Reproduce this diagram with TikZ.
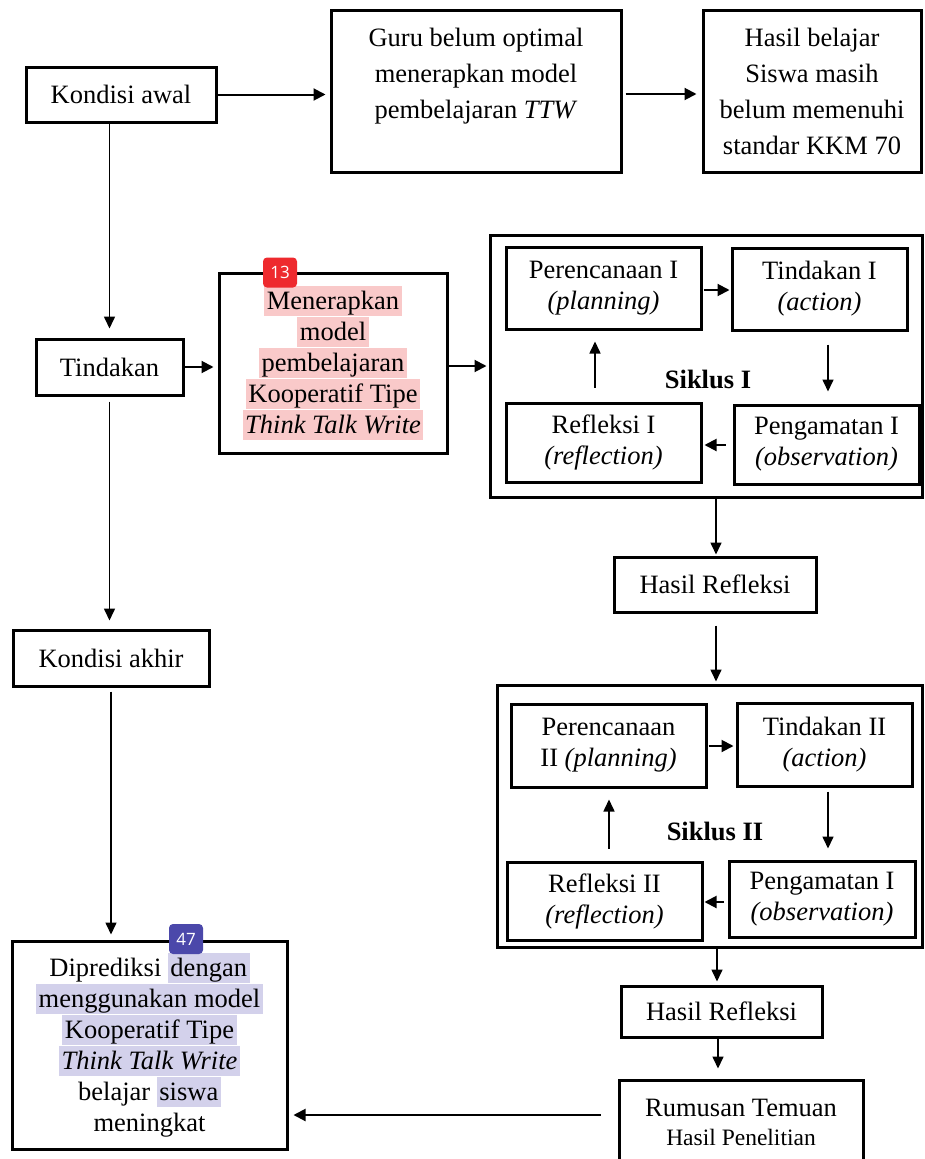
\documentclass[tikz,border=0pt]{standalone}
\usepackage{fontspec}
\setmainfont{Liberation Serif}
\newfontfamily\badgefont{Open Sans}
\usetikzlibrary{arrows.meta}
\definecolor{hlpink}{HTML}{F9C9C9}
\definecolor{hlblue}{HTML}{D3D1EB}
\definecolor{badgered}{HTML}{EE2A2E}
\definecolor{badgeblue}{HTML}{4B48AA}
\newcommand\hlp[1]{{\setlength{\fboxsep}{1pt}\colorbox{hlpink}{\hspace{1.5pt}\rule[-6pt]{0pt}{28pt}#1\hspace{1.5pt}}}}
\newcommand\hlb[1]{{\setlength{\fboxsep}{1pt}\colorbox{hlblue}{\hspace{1.5pt}\rule[-6pt]{0pt}{28pt}#1\hspace{1.5pt}}}}
\tikzset{
  box/.style={draw, line width=3pt, inner sep=0pt, align=center, fill=white,
    font={\fontsize{26.5}{31}\selectfont}},
  widebox/.style={box, font={\fontsize{26.5}{36}\selectfont}},
  outerbox/.style={draw, line width=3pt, inner sep=0pt},
  arr/.style={-{Triangle[length=12pt,width=12pt]}, line width=2pt},
  arrthin/.style={-{Triangle[length=12pt,width=11pt]}, line width=1.6pt},
  badge/.style={rounded corners=4pt, inner sep=0pt, minimum width=34pt, minimum height=30pt,
    text=white, font={\badgefont\fontsize{17}{17}\selectfont}},
  lbl/.style={font={\bfseries\fontsize{26.5}{31}\selectfont}}
}
\begin{document}
\begin{tikzpicture}[x=1pt,y=-1pt]
\useasboundingbox[fill=white] (0,0) rectangle (924,1159);
% top row
\node[box, minimum width=190pt, minimum height=55pt] (ka) at (121,94.5) {Kondisi awal};
\node[widebox, minimum width=290pt, minimum height=162pt] (guru) at (476,91)
  {Guru belum optimal\\menerapkan model\\pembelajaran \textit{TTW}\\\mbox{}};
\node[widebox, minimum width=218pt, minimum height=162pt] (hb) at (812,91)
  {Hasil belajar\\Siswa masih\\belum memenuhi\\standar KKM 70};
% left column
\node[box, minimum width=147pt, minimum height=56pt] (tin) at (109.5,367) {Tindakan};
\node[box, minimum width=196pt, minimum height=56pt] (kak) at (111,658) {Kondisi akhir};
\node[box, minimum width=275pt, minimum height=208pt] (dip) at (149.5,1045)
  {Diprediksi \hlb{dengan}\\\hlb{menggunakan model}\\\hlb{Kooperatif Tipe}\\\hlb{\textit{Think Talk Write}}\\belajar \hlb{siswa}\\meningkat};
% menerapkan
\node[box, minimum width=228pt, minimum height=180pt] (men) at (333,363)
  {\hlp{Menerapkan}\\\hlp{model}\\\hlp{pembelajaran}\\\hlp{Kooperatif Tipe}\\\hlp{\textit{Think Talk Write}}};
% siklus I
\node[outerbox, minimum width=432pt, minimum height=262pt] (s1) at (706,366) {};
\node[box, minimum width=195pt, minimum height=82pt] (p1) at (603.5,288) {Perencanaan I\\\textit{(planning)}};
\node[box, minimum width=175pt, minimum height=82pt] (t1) at (819.5,289) {Tindakan I\\\textit{(action)}};
\node[box, minimum width=195pt, minimum height=79pt] (r1) at (603.5,442.5) {Refleksi I\\\textit{(reflection)}};
\node[box, minimum width=185pt, minimum height=79pt] (g1) at (826.5,444.5) {Pengamatan I\\\textit{(observation)}};
\node[lbl] (sl1) at (708,379) {Siklus I};
\node[box, minimum width=202pt, minimum height=55pt] (hr1) at (715,584.5) {Hasil Refleksi};
% siklus II
\node[outerbox, minimum width=425pt, minimum height=262pt] (s2) at (709.5,816) {};
\node[box, minimum width=195pt, minimum height=83pt] (p2) at (608.5,745.5) {Perencanaan\\II \textit{(planning)}};
\node[box, minimum width=175pt, minimum height=83pt] (t2) at (824.5,744.5) {Tindakan II\\\textit{(action)}};
\node[box, minimum width=195pt, minimum height=78pt] (r2) at (604.5,901) {Refleksi II\\\textit{(reflection)}};
\node[box, minimum width=186pt, minimum height=76pt] (g2) at (822,899) {Pengamatan I\\\textit{(observation)}};
\node[lbl] (sl2) at (715,831) {Siklus II};
\node[box, minimum width=201pt, minimum height=51pt] (hr2) at (721.5,1011.5) {Hasil Refleksi};
\node[box, minimum width=244pt, minimum height=84pt, font={\fontsize{26.5}{29}\selectfont}] (rum) at (741,1122)
  {Rumusan Temuan\\{\fontsize{23.5}{29}\selectfont Hasil Penelitian}};
% badges
\node[badge, fill=badgered] (b13) at (280,272.5) {13};
\node[badge, fill=badgeblue] (b47) at (186,939) {47};
% connectors
\draw[arr, shorten >=4pt] (ka.east) -- (ka.east -| guru.west);
\draw[arr, shorten <=3pt, shorten >=5pt] ([yshift=-3pt]guru.east) -- ([yshift=-3pt]hb.west);
\draw[arrthin, shorten >=9pt] (ka.south -| tin.north) -- (tin.north);
\draw[arr, shorten >=4pt] (tin.east) -- (tin.east -| men.west);
\coordinate (me) at ([yshift=-3pt]men.east);
\draw[arr, shorten >=2pt] (me) -- (me -| s1.west);
\draw[arrthin, shorten <=5pt, shorten >=8pt] (tin.south) -- (tin.south |- kak.north);
\draw[arrthin, shorten <=4pt, shorten >=5pt] (kak.south) -- (kak.south |- dip.north);
% siklus I arrows
\draw[arr, shorten <=1pt, shorten >=1pt] (p1.east |- 0,290) -- (t1.west |- 0,290);
\draw[arrthin, shorten <=13pt, shorten >=12pt] (t1.south -| 828,0) -- (g1.north -| 828,0);
\draw[arr, shorten <=7pt, shorten >=2pt] (g1.west |- 0,445) -- (r1.east |- 0,445);
\draw[arrthin, shorten <=14pt, shorten >=11pt] (r1.north -| 595,0) -- (p1.south -| 595,0);
\draw[arrthin, shorten >=1pt] (s1.south -| 716,0) -- (hr1.north -| 716,0);
\draw[arrthin, shorten <=12pt, shorten >=2pt] (hr1.south -| 716,0) -- (s2.north -| 716,0);
% siklus II arrows
\draw[arr, shorten <=1pt, shorten >=2pt] (p2.east |- 0,746) -- (t2.west |- 0,746);
\draw[arrthin, shorten <=4pt, shorten >=11pt] (t2.south -| 828,0) -- (g2.north -| 828,0);
\draw[arr, shorten <=4pt, shorten >=1pt] (g2.west |- 0,902) -- (r2.east |- 0,902);
\draw[arrthin, shorten <=12pt, shorten >=11pt] (r2.north -| 609,0) -- (p2.south -| 609,0);
\draw[arrthin, shorten >=3pt] (s2.south -| 717,0) -- (hr2.north -| 717,0);
\draw[arrthin, shorten >=10pt] (hr2.south -| 718,0) -- (rum.north -| 718,0);
\coordinate (rw) at ([yshift=7pt]rum.west);
\draw[arr, shorten <=17pt, shorten >=5pt] (rw) -- (rw -| dip.east);
\end{tikzpicture}
\end{document}
